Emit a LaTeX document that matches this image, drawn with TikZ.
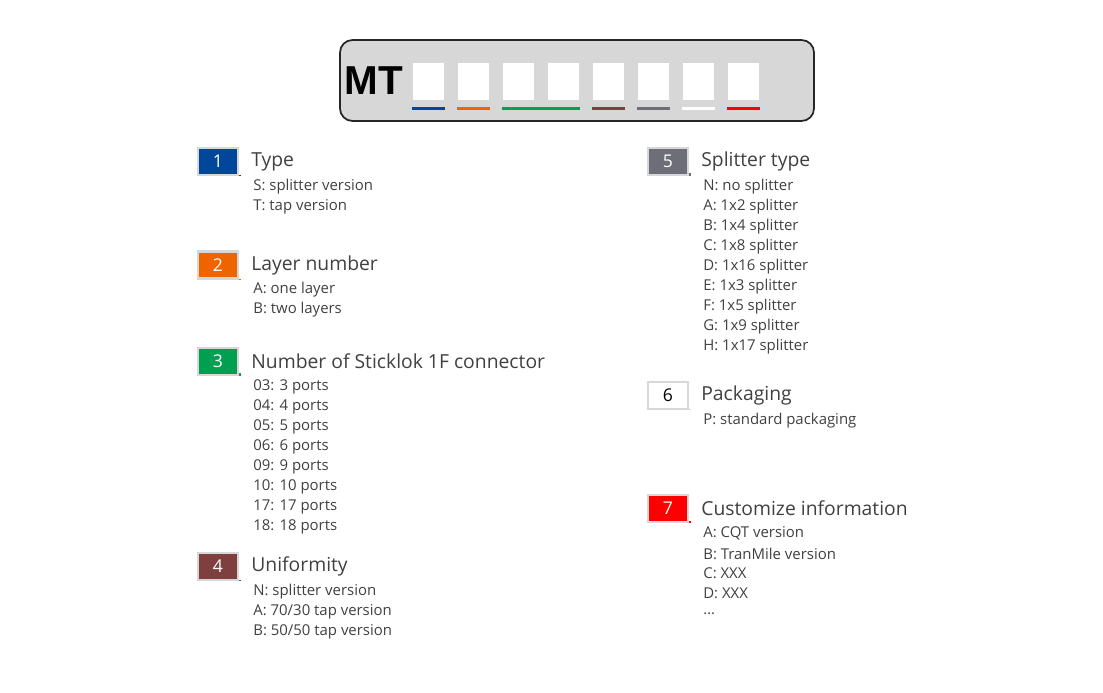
\documentclass[tikz,border=0pt]{standalone}
\usepackage{fontspec}
\setmainfont{Open Sans}
\newfontfamily\mtfont{Liberation Sans}
\usetikzlibrary{positioning}
\definecolor{cblue}{RGB}{0,71,155}
\definecolor{corange}{RGB}{240,100,0}
\definecolor{cgreen}{RGB}{0,160,80}
\definecolor{cbrown}{RGB}{127,63,63}
\definecolor{cgray}{RGB}{110,110,120}
\definecolor{cred}{RGB}{255,0,0}
\definecolor{clight}{RGB}{215,215,215}
\definecolor{ctext}{RGB}{64,64,64}
\tikzset{
  numbox/.style={draw=clight, line width=1.2pt, minimum width=0.8cm, minimum height=0.54cm, inner sep=0pt, text=white, font=\fontsize{10}{12}\selectfont},
  headtext/.style={anchor=west, text=ctext, font=\fontsize{11}{13}\selectfont, inner sep=0pt},
  itemtext/.style={anchor=west, text=ctext, font=\fontsize{8.5}{10}\selectfont, inner sep=0pt},
  slot/.style={fill=white, draw=clight, line width=0.3pt, minimum width=0.64cm, minimum height=0.76cm, inner sep=0pt, anchor=north west},
}
% one block: x, y (box centre), number, colour, title, line end, items
\newcommand{\codeblock}[8]{%
  \node[numbox, fill=#4] (n#3) at (#1,#2) {#3};
  \node[headtext] (h#3) at (#1+33,#2) {#5};
  \draw[#4, line width=1.2pt] ([xshift=0.4pt]n#3.south east) -- ++(0,{(#2+13.5-#6)*0.02});
  \foreach \t [count=\i] in {#7} {
    \node[itemtext] at (#1+35,#2+5+20*\i) {\t};
  }%
}
\begin{document}
\begin{tikzpicture}[x=0.02cm, y=-0.02cm]
\useasboundingbox (0,0) rectangle (1103,693);
% top label
\draw[fill=clight, draw=black!85, line width=1pt, rounded corners=0.25cm] (340,40) rectangle (814,121);
\node[font=\mtfont\bfseries\fontsize{23}{25}\selectfont] (mt) at (374,81) {MT};
\foreach \k in {0,...,7} {
  \node[slot] (s\k) at (412+45*\k,62) {};
}
\foreach \k/\c in {0/cblue,1/corange,4/cbrown,5/cgray,6/white,7/cred} {
  \draw[\c, line width=1.5pt] ([yshift=-0.16cm]s\k.south west) -- ([yshift=-0.16cm]s\k.south east);
}
\draw[cgreen, line width=1.5pt] ([yshift=-0.16cm]s2.south west) -- ([yshift=-0.16cm]s3.south east);
% left column
\codeblock{218}{161.5}{1}{cblue}{Type}{225}{S: splitter version,T: tap version}{}
\codeblock{218}{265}{2}{corange}{Layer number}{328}{A: one layer,B: two layers}{}
\codeblock{218}{361.5}{3}{cgreen}{Number of Sticklok 1F connector}{533}{03: 3 ports,04: 4 ports,05: 5 ports,06: 6 ports,09: 9 ports,10: 10 ports,17: 17 ports,18: 18 ports}{}
\codeblock{218}{566.5}{4}{cbrown}{Uniformity}{638}{N: splitter version,A: 70/30 tap version,B: 50/50 tap version}{}
% right column
\codeblock{668}{161.5}{5}{cgray}{Splitter type}{352}{N: no splitter,A: 1x2 splitter,B: 1x4 splitter,C: 1x8 splitter,D: 1x16 splitter,E: 1x3 splitter,F: 1x5 splitter,G: 1x9 splitter,H: 1x17 splitter}{}
\codeblock{668}{395.5}{6}{white}{Packaging}{458}{P: standard packaging}{}
\node[numbox, fill=white, text=black] at (n6) {6};
\draw[clight, line width=1.2pt] ([xshift=0.4pt]n6.south east) -- ++(0,{(395.5+13.5-458)*0.02});
\codeblock{668}{508.5}{7}{cred}{Customize information}{620}{A: CQT version,B: TranMile version,C: XXX,D: XXX,\dots}{}
\end{tikzpicture}
\end{document}
